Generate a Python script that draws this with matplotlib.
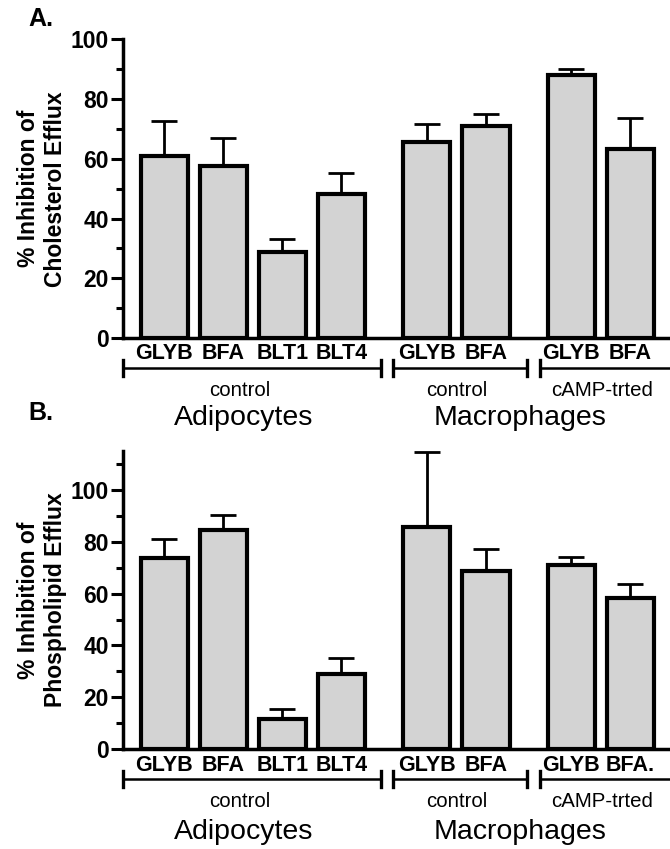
import numpy as np
import matplotlib
matplotlib.use('Agg')
import matplotlib.pyplot as plt
from matplotlib.transforms import blended_transform_factory

plt.rcParams['font.family'] = ['Liberation Sans', 'DejaVu Sans']

# datos
posiciones = [0, 1, 2, 3, 4.45, 5.45, 6.9, 7.9]
etiquetas_a = ['GLYB', 'BFA', 'BLT1', 'BLT4', 'GLYB', 'BFA', 'GLYB', 'BFA']
etiquetas_b = ['GLYB', 'BFA', 'BLT1', 'BLT4', 'GLYB', 'BFA', 'GLYB', 'BFA.']

colesterol = [61.0, 57.6, 28.9, 48.2, 65.7, 70.9, 88.0, 63.3]
colesterol_err = [11.6, 9.5, 4.1, 7.1, 5.9, 4.0, 2.0, 10.5]

fosfolipido = [73.5, 84.3, 11.5, 29.2, 85.6, 68.6, 70.9, 58.1]
fosfolipido_err = [7.4, 5.9, 3.9, 5.9, 29.1, 8.7, 3.2, 5.5]

subgrupos = ['control', 'control', 'cAMP-trted']
subgrupo_x = [1.27, 4.95, 7.42]
grupos = ['Adipocytes', 'Macrophages']
grupo_x = [1.34, 6.03]

# extremos de los corchetes (x en datos) y si llevan marca en cada punta
corchetes = [(-0.70, 3.68, True, True), (3.87, 6.14, True, True), (6.36, 8.57, True, False)]

fig = plt.figure(figsize=(6.7, 8.49), dpi=100)


def panel(rect, valores, errores, etiquetas, ymax, ylabel, letra, letra_y, ys):
    ax = fig.add_axes(rect)
    ax.errorbar(posiciones, valores, yerr=[np.zeros(len(valores)), errores],
                fmt='none', ecolor='black', elinewidth=2.0, capsize=9.5,
                capthick=2.0, zorder=1)
    ax.bar(posiciones, valores, width=0.8, color='#d3d3d3', edgecolor='black',
           linewidth=3.0, zorder=2)
    ax.set_xlim(-0.70, 8.57)
    ax.set_ylim(0, ymax)
    ax.set_yticks(np.arange(0, 101, 20))
    ax.set_yticks(np.arange(10, ymax + 0.1, 20), minor=True)
    ax.tick_params(axis='y', which='major', length=9, width=2.2, labelsize=16.5, pad=1)
    ax.tick_params(axis='y', which='minor', length=5, width=2.2)
    for lbl in ax.get_yticklabels():
        lbl.set_fontweight('bold')
    ax.set_xticks([])
    for s in ['top', 'right']:
        ax.spines[s].set_visible(False)
    ax.spines['left'].set_linewidth(2.5)
    ax.spines['bottom'].set_linewidth(2.5)

    tr = blended_transform_factory(ax.transData, fig.transFigure)
    y_lab, y_br, y_sub, y_grp = ys
    for x, t in zip(posiciones, etiquetas):
        fig.text(x, y_lab, t, transform=tr, ha='center', va='center',
                 fontsize=15.5, fontweight='bold')
    for x0, x1, t0, t1 in corchetes:
        fig.lines.append(plt.Line2D([x0, x1], [y_br, y_br], transform=tr,
                                    color='black', lw=1.8))
        for x, t in [(x0, t0), (x1, t1)]:
            if t:
                fig.lines.append(plt.Line2D([x, x], [y_br - 0.009, y_br + 0.009],
                                            transform=tr, color='black', lw=2.4))
    for x, t in zip(subgrupo_x, subgrupos):
        fig.text(x, y_sub, t, transform=tr, ha='center', va='center', fontsize=14.7)
    for x, t in zip(grupo_x, grupos):
        fig.text(x, y_grp, t, transform=tr, ha='center', va='center', fontsize=20.5)

    fig.text(42 / 670, rect[1] + rect[3] * 0.5, ylabel, rotation=90,
             ha='center', va='center', fontsize=16.5, fontweight='bold',
             multialignment='center', linespacing=1.25)
    fig.text(0.042, letra_y, letra, ha='left', va='center', fontsize=18,
             fontweight='bold')
    return ax


panel([0.1836, 0.6019, 0.8164, 0.3516], colesterol, colesterol_err, etiquetas_a,
      100, '% Inhibition of\nCholesterol Efflux', 'A.', 1 - 19 / 849,
      (0.584, 0.5666, 0.5406, 0.5077))
panel([0.1836, 0.1174, 0.8164, 0.3517], fosfolipido, fosfolipido_err, etiquetas_b,
      115, '% Inhibition of\nPhospholipid Efflux', 'B.', 1 - 413 / 849,
      (0.0989, 0.0824, 0.0557, 0.0204))

fig.savefig('out.png', dpi=100)
